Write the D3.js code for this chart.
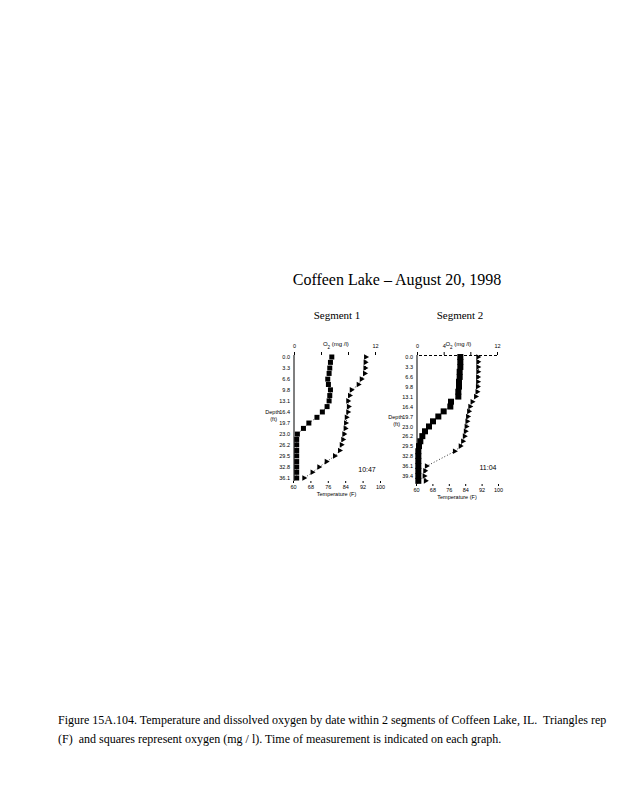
<!DOCTYPE html>
<html>
<head>
<meta charset="utf-8">
<script src="https://cdn.jsdelivr.net/npm/d3@7"></script>
<style>
  body { margin: 0; background: #fff; }
  svg { display: block; }
</style>
</head>
<body>
<div id="chart"></div>
<script>
// depth in feet, measured every half metre
var depthFt = [0.0, 1.6, 3.3, 4.9, 6.6, 8.2, 9.8, 11.5, 13.1, 14.8, 16.4, 18.0, 19.7,
               21.3, 23.0, 24.6, 26.2, 27.9, 29.5, 31.2, 32.8, 34.4, 36.1, 37.7, 39.4, 41.0]

// segment 1 (10:47)
var seg1Depth = depthFt.slice(0, 23)
var seg1Oxygen = [5.6, 5.4, 5.3, 5.2, 5.0, 5.1, 5.4, 5.3, 5.2, 4.9, 4.2, 3.4, 2.2,
                  1.4, 0.5, 0.4, 0.4, 0.4, 0.4, 0.4, 0.4, 0.4, 0.4]
var seg1Temp = [93.6, 93.4, 93.3, 93.1, 91.6, 90.2, 87.0, 86.2, 85.4, 85.7, 85.4, 84.7, 84.4,
                84.2, 83.6, 83.1, 82.4, 81.6, 79.3, 75.5, 72.1, 69.0, 65.2]

// segment 2 (11:04)
var seg2Depth = depthFt.slice()
var seg2Oxygen = [6.5, 6.5, 6.5, 6.4, 6.4, 6.3, 6.3, 6.2, 6.2, 5.1, 5.0, 4.0, 3.2,
                  2.4, 1.8, 1.2, 0.8, 0.5, 0.3, 0.2, 0.2, 0.2, 0.2, 0.2, 0.2, 0.2]
var seg2TempDepth = depthFt.slice(0, 20).concat(depthFt.slice(22))
var seg2Temp = [90.4, 90.4, 90.4, 90.4, 90.3, 90.3, 90.2, 90.0, 89.3, 87.6, 86.5, 85.9, 85.4,
                85.1, 84.7, 84.3, 83.8, 83.0, 81.8, 79.0, 65.3, 64.5, 64.2, 64.8]

// tick labels
var seg1DepthTicks = ["0.0", "3.3", "6.6", "9.8", "13.1", "16.4", "19.7", "23.0", "26.2", "29.5", "32.8", "36.1"]
var seg2DepthTicks = ["0.0", "3.3", "6.6", "9.8", "13.1", "16.4", "19.7", "23.0", "26.2", "29.5", "32.8", "36.1", "39.4"]
var tempTicks = [60, 68, 76, 84, 92, 100]
var oxygenTicks = [0, 4, 8, 12]

var W = 618, H = 800
var svg = d3.select("#chart").append("svg").attr("width", W).attr("height", H)

var serif = "'Liberation Serif', 'Times New Roman', serif"
var sans = "'Liberation Sans', Arial, sans-serif"

svg.append("text")
  .attr("x", 397).attr("y", 285)
  .attr("text-anchor", "middle")
  .style("font-family", serif).style("font-size", "16px")
  .text("Coffeen Lake \u2013 August 20, 1998")

// caption, first line is cut by the page edge in the scan
var cap = svg.append("text")
  .attr("xml:space", "preserve")
  .style("font-family", serif).style("font-size", "12px")
cap.append("tspan").attr("x", 58).attr("y", 724)
  .text("Figure 15A.104. Temperature and dissolved oxygen by date within 2 segments of Coffeen Lake, IL.  Triangles rep")
cap.append("tspan").attr("x", 58).attr("y", 743)
  .text("(F)  and squares represent oxygen (mg / l). Time of measurement is indicated on each graph.")

function drawPanel(p){

  var g = svg.append("g")

  var y = d3.scaleLinear().domain([0, p.depthMax]).range([p.top, p.depthBottom])
  var xT = d3.scaleLinear().domain([60, 100]).range([p.tLeft, p.tRight])
  var xO = d3.scaleLinear().domain([0, 12]).range([p.oLeft, p.oRight])

  g.append("text")
    .attr("x", p.titleX).attr("y", 319)
    .attr("text-anchor", "middle")
    .style("font-family", serif).style("font-size", "11px")
    .text(p.title)

  // left depth axis
  var yAxis = d3.axisLeft(y)
    .tickValues(p.depthTicks.map(Number))
    .tickFormat(function(d, i) { return p.depthTicks[i] })
    .tickSize(0).tickPadding(4)
  var ya = g.append("g")
    .attr("transform", "translate(" + p.oLeft + ",0)")
    .call(yAxis)
  ya.select(".domain").attr("d", "M0," + (p.top - 2) + "V" + p.bottom).attr("stroke", "#000")
  ya.selectAll("text").style("font-family", sans).style("font-size", "5.5px")

  g.append("text")
    .attr("x", p.depthLabelX).attr("y", p.depthLabelY)
    .attr("text-anchor", "end")
    .style("font-family", sans).style("font-size", "5.5px")
    .text("Depth")
  g.append("text")
    .attr("x", p.depthLabelX - 3).attr("y", p.depthLabelY + 7)
    .attr("text-anchor", "end")
    .style("font-family", sans).style("font-size", "5.5px")
    .text("(ft)")

  // top oxygen axis
  var oa = g.append("g")
    .attr("transform", "translate(0," + (p.top - 2) + ")")
    .call(d3.axisTop(xO).tickValues(oxygenTicks).tickSize(3).tickPadding(4))
  oa.selectAll("text").style("font-family", sans).style("font-size", "5.5px")
  oa.select(".domain").attr("stroke", p.topLine ? "#000" : "none")
    .attr("stroke-dasharray", "3,2")
  // the "8" and "4" labels sit under the axis title
  oa.selectAll(".tick").filter(function(d) { return d === 8 || (!p.topLine && d === 4) })
    .select("text").remove()

  var ol = g.append("text")
    .attr("x", xO(6.2)).attr("y", p.top - 11)
    .attr("text-anchor", "middle")
    .style("font-family", sans).style("font-size", "6px")
  ol.append("tspan").text("O")
  ol.append("tspan").attr("baseline-shift", "sub").style("font-size", "4.5px").text("2")
  ol.append("tspan").text(" (mg /l)")

  // bottom temperature axis
  var ta = g.append("g")
    .attr("transform", "translate(0," + p.bottom + ")")
    .call(d3.axisBottom(xT).tickValues(tempTicks).tickSize(2).tickPadding(2))
  ta.select(".domain").attr("stroke", "none")
  ta.selectAll("text").style("font-family", sans).style("font-size", "5.5px")

  g.append("text")
    .attr("x", xT(80)).attr("y", p.bottom + 15)
    .attr("text-anchor", "middle")
    .style("font-family", sans).style("font-size", "5.5px")
    .text("Temperature (F)")

  // time of measurement
  g.append("text")
    .attr("x", p.timeX).attr("y", p.timeY)
    .attr("text-anchor", "middle")
    .style("font-family", sans).style("font-size", "7px")
    .text(p.time)

  // oxygen: squares joined by a dotted line
  var oxy = p.oxygen.map(function(v, i) { return [xO(v), y(p.depth[i])] })
  g.append("path")
    .attr("d", d3.line()(oxy))
    .attr("fill", "none").attr("stroke", "#000")
    .attr("stroke-width", 0.8).attr("stroke-dasharray", "1,2")
  g.selectAll(".sq")
    .data(oxy)
    .enter().append("rect")
    .attr("class", "sq")
    .attr("x", function(d) { return d[0] - p.sq / 2 })
    .attr("y", function(d) { return d[1] - p.sq / 2 })
    .attr("width", p.sq).attr("height", p.sq)
    .attr("fill", "#000")

  // temperature: right-pointing triangles joined by a dotted line
  var tmp = p.temp.map(function(v, i) { return [xT(v), y(p.tempDepth[i])] })
  g.append("path")
    .attr("d", d3.line()(tmp))
    .attr("fill", "none").attr("stroke", "#000")
    .attr("stroke-width", 0.8).attr("stroke-dasharray", "1,2")
  g.selectAll(".tri")
    .data(tmp)
    .enter().append("path")
    .attr("class", "tri")
    .attr("d", function(d) {
      return "M" + (d[0] - 2) + "," + (d[1] - 2.8) + "L" + (d[0] + 3) + "," + d[1] +
             "L" + (d[0] - 2) + "," + (d[1] + 2.8) + "Z"
    })
    .attr("fill", "#000")
}

drawPanel({
  title: "Segment 1", titleX: 337, time: "10:47", timeX: 367, timeY: 472,
  depth: seg1Depth, oxygen: seg1Oxygen, tempDepth: seg1Depth, temp: seg1Temp,
  depthTicks: seg1DepthTicks, depthMax: 36.1,
  top: 357, depthBottom: 478, bottom: 481,
  tLeft: 293, tRight: 380, oLeft: 294, oRight: 375,
  depthLabelX: 280, depthLabelY: 414, sq: 5, topLine: false
})

drawPanel({
  title: "Segment 2", titleX: 460, time: "11:04", timeX: 488, timeY: 470,
  depth: seg2Depth, oxygen: seg2Oxygen, tempDepth: seg2TempDepth, temp: seg2Temp,
  depthTicks: seg2DepthTicks, depthMax: 39.4,
  top: 357, depthBottom: 476, bottom: 484,
  tLeft: 416, tRight: 498, oLeft: 417, oRight: 497,
  depthLabelX: 403, depthLabelY: 419, sq: 6, topLine: true
})
</script>
</body>
</html>
